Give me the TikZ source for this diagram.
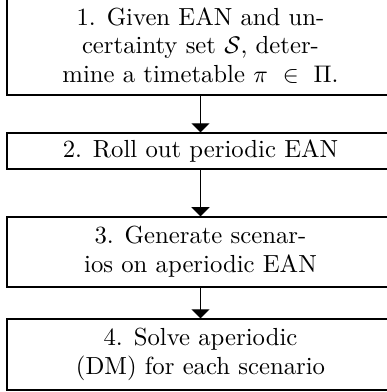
\documentclass[tikz,border=0pt]{standalone}
\usetikzlibrary{arrows.meta}
\begin{document}
\begin{tikzpicture}[x=0.4167pt,y=-0.4167pt,
  stepbox/.style={draw, line width=0.5pt, minimum width=161.3pt, align=center, inner sep=0pt, font=\fontsize{10.3}{12}\selectfont},
  flow/.style={-{Triangle[width=7.5pt,length=3.8pt]}, line width=0.5pt}]
\useasboundingbox (0,0) rectangle (387,392);
\node[stepbox, minimum height=41.25pt] (b1) at (200.5,45.5) {1. Given EAN and un-\\certainty set $\mathcal{S}$, deter-\\mine a timetable $\pi\ \in\ \Pi$.};
\node[stepbox, minimum height=15pt] (b2) at (200.5,151) {2. Roll out periodic EAN};
\node[stepbox, minimum height=29.2pt] (b3) at (200.5,252) {3. Generate scenar-\\ios on aperiodic EAN};
\node[stepbox, minimum height=29.6pt] (b4) at (200.5,354.5) {4. Solve aperiodic\\(DM) for each scenario};
\draw[flow] (b1) -- (b2);
\draw[flow] (b2) -- (b3);
\draw[flow] (b3) -- (b4);
\end{tikzpicture}
\end{document}
